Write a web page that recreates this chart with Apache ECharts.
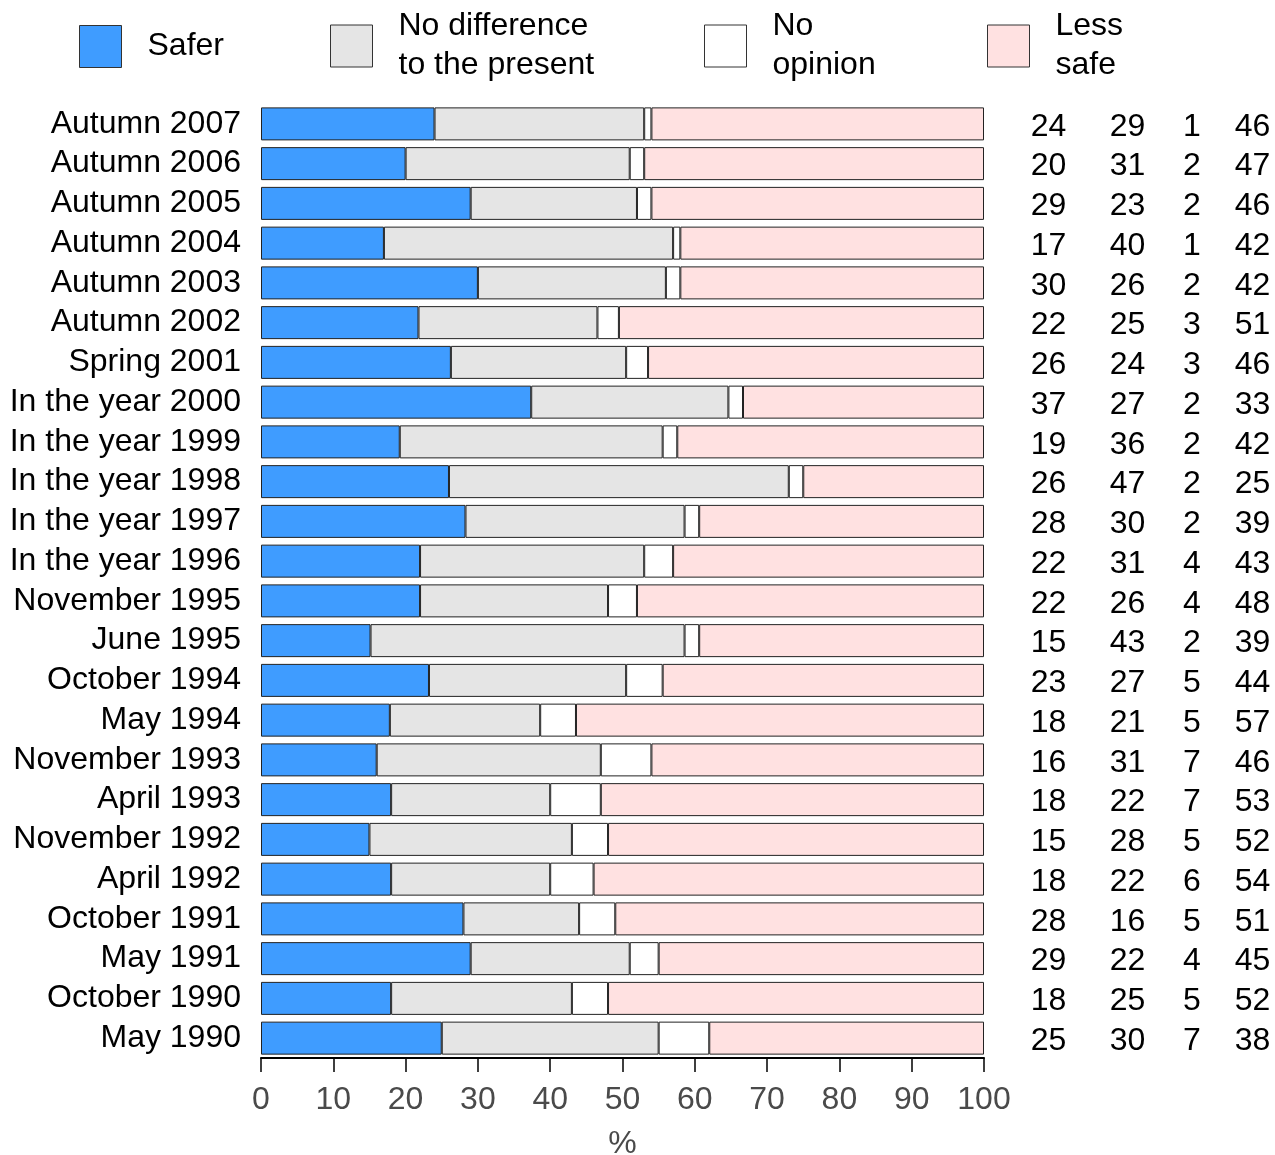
<!DOCTYPE html>
<html>
<head>
<meta charset="utf-8">
<script src="https://cdn.jsdelivr.net/npm/echarts@6/dist/echarts.min.js"></script>
<style>
html,body{margin:0;padding:0;background:#fff;}
#chart{width:1275px;height:1155px;}
</style>
</head>
<body>
<div id="chart"></div>
<script>
var categories = ["Autumn 2007","Autumn 2006","Autumn 2005","Autumn 2004","Autumn 2003","Autumn 2002","Spring 2001","In the year 2000","In the year 1999","In the year 1998","In the year 1997","In the year 1996","November 1995","June 1995","October 1994","May 1994","November 1993","April 1993","November 1992","April 1992","October 1991","May 1991","October 1990","May 1990"];
var safer      = [24,20,29,17,30,22,26,37,19,26,28,22,22,15,23,18,16,18,15,18,28,29,18,25];
var noDiff     = [29,31,23,40,26,25,24,27,36,47,30,31,26,43,27,21,31,22,28,22,16,22,25,30];
var noOpinion  = [1,2,2,1,2,3,3,2,2,2,2,4,4,2,5,5,7,7,5,6,5,4,5,7];
var lessSafe   = [46,47,46,42,42,51,46,33,42,25,39,43,48,39,44,57,46,53,52,54,51,45,52,38];
var seriesNames = ["Safer","No difference\nto the present","No\nopinion","Less\nsafe"];
var xTicks = [0,10,20,30,40,50,60,70,80,90,100];

var FONT = "'Liberation Sans', Arial, Helvetica, sans-serif";
var colors = ["#3F9CFF","#E5E5E5","#FFFFFF","#FFE1E1"];
var raw = [safer, noDiff, noOpinion, lessSafe];
var sums = categories.map(function(c,i){return safer[i]+noDiff[i]+noOpinion[i]+lessSafe[i];});
function norm(arr){return arr.map(function(v,i){return v*100/sums[i];});}

var chart = echarts.init(document.getElementById('chart'));
var series = raw.map(function(arr,k){
  return {
    name: seriesNames[k], type:'bar', stack:'all', barWidth:33,
    data: norm(arr),
    itemStyle:{color:colors[k], borderColor:'#222', borderWidth:1},
    emphasis:{disabled:true}, animation:false
  };
});
var legendLefts = [79,330,704,987];
var legendTops = [25,7,7,7];
var legends = seriesNames.map(function(n,k){
  return {
    data:[n], left:legendLefts[k], top:legendTops[k], padding:0,
    icon:'rect', itemWidth:42, itemHeight:42,
    itemStyle:{borderColor:'#333', borderWidth:1},
    textStyle:{fontFamily:FONT, fontSize:32, color:'#000', lineHeight:39, padding:[0,0,0,21]},
    selectedMode:false
  };
});
chart.setOption({
  animation:false,
  backgroundColor:'#fff',
  textStyle:{fontFamily:FONT},
  legend: legends,
  grid:{left:261, right:291, top:104, bottom:97, containLabel:false, outerBoundsMode:'none'},
  xAxis:{
    type:'value', min:0, max:100, interval:10,
    axisLine:{show:true, lineStyle:{color:'#000', width:2}},
    axisTick:{show:true, length:14, lineStyle:{color:'#000', width:1.5}},
    splitLine:{show:false},
    axisLabel:{fontFamily:FONT, fontSize:32, color:'#4A4A4A', margin:26,
      formatter:function(v){return xTicks.indexOf(v)>=0 ? String(v) : '';}},
    name:'%', nameLocation:'middle', nameGap:70, nameMoveOverlap:false,
    nameTextStyle:{fontFamily:FONT, fontSize:32, color:'#4A4A4A'}
  },
  yAxis:[{
    type:'category', data:categories, inverse:true,
    axisLine:{show:false}, axisTick:{show:false},
    axisLabel:{interval:0, fontFamily:FONT, fontSize:32, color:'#000', margin:20, padding:[4,0,0,0]}
  },{
    type:'category', data:categories, inverse:true, position:'right',
    axisLine:{show:false}, axisTick:{show:false},
    axisLabel:{interval:0, margin:25,
      formatter:function(v,i){
        return '{a|'+safer[i]+'}{b|'+noDiff[i]+'}{c|'+noOpinion[i]+'}{d|'+lessSafe[i]+'}';
      },
      rich:{
        a:{width:79, align:'center', fontFamily:FONT, fontSize:32, color:'#000', padding:[6,0,0,0]},
        b:{width:79, align:'center', fontFamily:FONT, fontSize:32, color:'#000', padding:[6,0,0,0]},
        c:{width:50, align:'center', fontFamily:FONT, fontSize:32, color:'#000', padding:[6,0,0,0]},
        d:{width:71, align:'center', fontFamily:FONT, fontSize:32, color:'#000', padding:[6,0,0,0]}
      }
    }
  }],
  series: series
});
</script>
</body>
</html>
